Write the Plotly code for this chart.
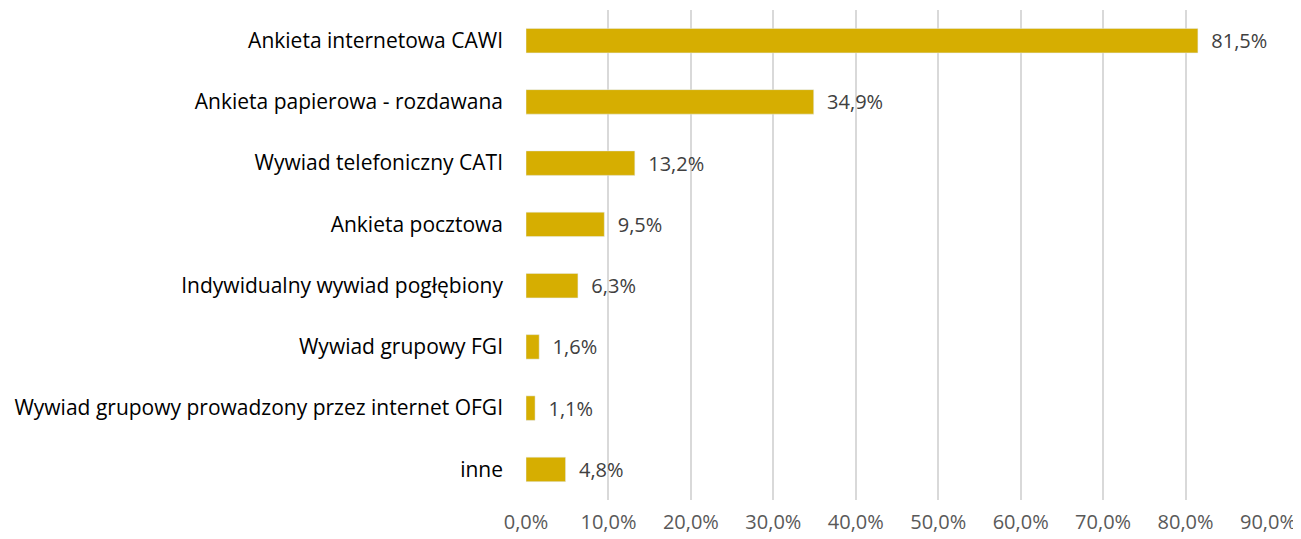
import plotly.graph_objects as go

categories = [
    "Ankieta internetowa CAWI",
    "Ankieta papierowa - rozdawana",
    "Wywiad telefoniczny CATI",
    "Ankieta pocztowa",
    "Indywidualny wywiad pogłębiony",
    "Wywiad grupowy FGI",
    "Wywiad grupowy prowadzony przez internet OFGI",
    "inne",
]
values = [81.5, 34.9, 13.2, 9.5, 6.3, 1.6, 1.1, 4.8]
tick_vals = [0, 10, 20, 30, 40, 50, 60, 70, 80, 90]
tick_text = ["0,0%", "10,0%", "20,0%", "30,0%", "40,0%", "50,0%",
             "60,0%", "70,0%", "80,0%", "90,0%"]

FONT = "'Open Sans', sans-serif"

fig = go.Figure()
fig.add_trace(go.Bar(
    y=categories,
    x=values,
    orientation="h",
    marker_color="#D6AE01",
    texttemplate="  %{x:.1f}%",
    textposition="outside",
    constraintext="none",
    cliponaxis=False,
    textfont=dict(family=FONT, size=20, color="#404040"),
    hoverinfo="skip",
))

# page body adds an 8px margin at top/left, so shift everything by that
fig.update_layout(
    width=1293, height=531,
    margin=dict(l=518, r=33, t=2, b=39),
    paper_bgcolor="white",
    plot_bgcolor="white",
    separators=", ",
    bargap=0.6,
    showlegend=False,
    font=dict(family=FONT, size=20, color="#000000"),
)
fig.update_xaxes(
    range=[0, 90],
    tickvals=tick_vals,
    ticktext=tick_text,
    showgrid=True,
    gridcolor="#D9D9D9",
    gridwidth=2,
    zeroline=False,
    showline=False,
    ticks="",
    automargin=False,
    ticklabelstandoff=8,
    tickfont=dict(family=FONT, size=20, color="#595959"),
)
fig.update_yaxes(
    autorange="reversed",
    showgrid=False,
    zeroline=False,
    showline=False,
    ticks="",
    automargin=False,
    ticklabelstandoff=22,
    tickfont=dict(family=FONT, size=21, color="#000000"),
)

fig.write_html("out.html")
